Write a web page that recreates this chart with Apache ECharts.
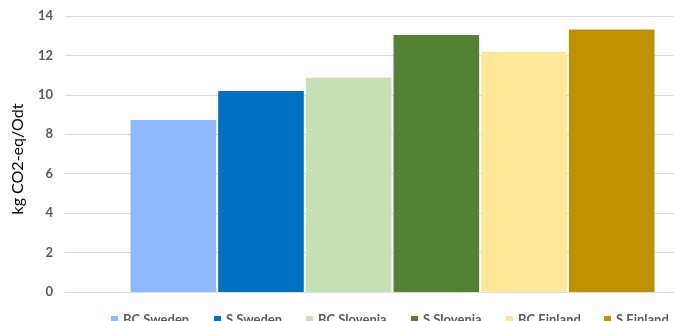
<!DOCTYPE html>
<html>
<head>
<meta charset="utf-8">
<style>html,body{margin:0;padding:0;background:#fff;}#c{width:674px;height:321px;}</style>
<script src="https://cdn.jsdelivr.net/npm/echarts@6/dist/echarts.min.js"></script>
</head>
<body>
<div id="c"></div>
<script>
const seriesNames = ['BC Sweden', 'S Sweden', 'BC Slovenia', 'S Slovenia', 'BC Finland', 'S Finland'];
const seriesValues = [8.73, 10.20, 10.87, 13.03, 12.17, 13.32];
const seriesColors = ['#8FB9FF', '#0070C0', '#C5E0B4', '#548235', '#FFE699', '#BF9000'];
const yTicks = [0, 2, 4, 6, 8, 10, 12, 14];
const legendLeft = [111, 214, 306, 411, 506, 604];

const chart = echarts.init(document.getElementById('c'), null, {renderer: 'canvas'});
const textColor = '#595959';
const font = 'Lato, "Open Sans", sans-serif';

chart.setOption({
  animation: false,
  grid: {left: 65, top: 16, width: 655, height: 276, containLabel: false, outerBoundsMode: 'none'},
  xAxis: {
    type: 'category',
    data: [''],
    axisLine: {show: true, lineStyle: {color: '#D9D9D9', width: 1}},
    axisTick: {show: false},
    axisLabel: {show: false}
  },
  yAxis: {
    type: 'value',
    min: yTicks[0],
    max: yTicks[yTicks.length - 1],
    interval: 2,
    name: 'kg CO2-eq/Odt',
    nameLocation: 'middle',
    nameGap: 39,
    nameRotate: 90,
    nameTextStyle: {color: '#000', fontSize: 16, fontFamily: font, padding: [0, 10, 0, 0]},
    axisLine: {show: false},
    axisTick: {show: false},
    axisLabel: {color: textColor, fontSize: 13, fontWeight: 'bold', fontFamily: font, margin: 12},
    splitLine: {lineStyle: {color: '#D9D9D9', width: 1}}
  },
  legend: seriesNames.map((n, i) => ({
    data: [n],
    left: legendLeft[i],
    top: 313,
    itemWidth: 7,
    itemHeight: 7,
    itemGap: 0,
    icon: 'rect',
    textStyle: {color: textColor, fontSize: 13, fontWeight: 'bold', fontFamily: font, padding: [0, 0, 0, 0]},
    padding: 0
  })),
  series: seriesNames.map((n, i) => ({
    name: n,
    type: 'bar',
    data: [seriesValues[i]],
    itemStyle: {color: seriesColors[i]},
    barGap: '2.4%',
    barCategoryGap: '20%'
  }))
});
</script>
</body>
</html>
